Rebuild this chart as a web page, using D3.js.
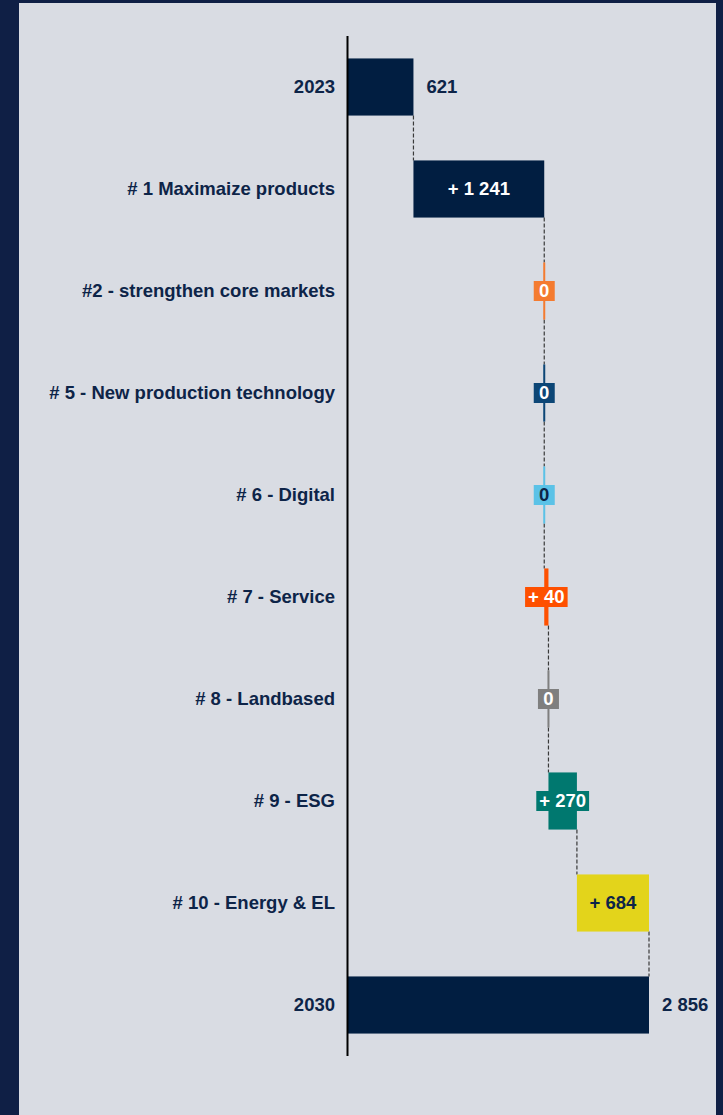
<!DOCTYPE html>
<html>
<head>
<meta charset="utf-8">
<script src="https://cdn.jsdelivr.net/npm/d3@7"></script>
<style>
  body { margin: 0; background: #0f1f45; }
  #frame { position: absolute; left: 19px; top: 3px; width: 697px; height: 1112px; background: #d9dce3; }
  svg { position: absolute; left: 0; top: 0; }
  text { font-family: "Liberation Sans", Arial, sans-serif; font-weight: bold; }
</style>
</head>
<body>
<div id="frame"></div>
<svg id="chart" width="723" height="1115"></svg>
<script>
// waterfall steps, 2023 -> 2030
const categories = ['2023', '# 1 Maximaize products', '#2 - strengthen core markets',
  '# 5 - New production technology', '# 6 - Digital', '# 7 - Service', '# 8 - Landbased',
  '# 9 - ESG', '# 10 - Energy & EL', '2030'];
const values = [621, 1241, 0, 0, 0, 40, 0, 270, 684, 2856];
const isTotal = [true, false, false, false, false, false, false, false, false, true];
const colors = ['#011e41', '#011e41', '#f47b30', '#0c4676', '#5bc2e7', '#fe5000',
  '#7f7f7f', '#00786f', '#e3d41b', '#011e41'];
const darkText = [false, false, false, false, true, false, false, false, true, false];

const navy = '#0d2448';
const fs = 18.5;
const loc = d3.formatLocale({ decimal: '.', thousands: '\u00a0', grouping: [3], currency: ['', ''] });
const fmt = loc.format(',d');

// build start/end of each bar
let run = 0;
const rows = categories.map((c, i) => {
  let x0, x1;
  if (isTotal[i]) { x0 = 0; x1 = values[i]; run = values[i]; }
  else { x0 = run; x1 = run + values[i]; run = x1; }
  return { cat: c, v: values[i], x0, x1, total: isTotal[i], color: colors[i], dark: darkText[i] };
});

const svg = d3.select('#chart');
const x = d3.scaleLinear().domain([0, 2856]).range([348, 649]);
const y = d3.scaleBand().domain(categories).range([36, 1056]).paddingInner(0.44).paddingOuter(0.22);

// connectors
svg.append('g').selectAll('line')
  .data(rows.slice(0, -1))
  .join('line')
  .attr('x1', d => x(d.x1)).attr('x2', d => x(d.x1))
  .attr('y1', d => y(d.cat) + y.bandwidth())
  .attr('y2', (d, i) => y(rows[i + 1].cat))
  .attr('stroke', '#3a3a3a').attr('stroke-width', 1.2).attr('stroke-dasharray', '4,2');

// bars
svg.append('g').selectAll('rect')
  .data(rows)
  .join('rect')
  .attr('x', d => d.v === 0 ? x(d.x0) - 1 : x(d.x0))
  .attr('width', d => Math.max(2, x(d.x1) - x(d.x0)))
  .attr('y', d => y(d.cat))
  .attr('height', y.bandwidth())
  .attr('fill', d => d.color);

// axis line
svg.append('line')
  .attr('x1', 347.5).attr('x2', 347.5).attr('y1', 36).attr('y2', 1056)
  .attr('stroke', '#000').attr('stroke-width', 2);

// category labels
svg.append('g').selectAll('text')
  .data(rows)
  .join('text')
  .attr('x', 335)
  .attr('y', d => y(d.cat) + y.bandwidth() / 2)
  .attr('dy', '0.35em')
  .attr('text-anchor', 'end')
  .attr('font-size', fs)
  .attr('fill', navy)
  .text(d => d.cat);

// value labels
const lab = svg.append('g');
rows.forEach(d => {
  const cy = y(d.cat) + y.bandwidth() / 2;
  if (d.total) {
    lab.append('text')
      .attr('x', x(d.x1) + 13).attr('y', cy).attr('dy', '0.35em')
      .attr('font-size', fs).attr('fill', navy)
      .text(fmt(d.v));
    return;
  }
  const txt = d.v === 0 ? '0' : '+ ' + fmt(d.v);
  const cx = (x(d.x0) + x(d.x1)) / 2;
  const g = lab.append('g');
  const t = g.append('text')
    .attr('x', cx).attr('y', cy).attr('dy', '0.35em')
    .attr('text-anchor', 'middle').attr('font-size', fs)
    .attr('fill', d.dark ? navy : '#fff')
    .text(txt);
  const w = t.node().getComputedTextLength();
  const bw = x(d.x1) - x(d.x0);
  if (bw < w + 6) {
    const boxW = Math.max(21, w + 6);
    g.insert('rect', 'text')
      .attr('x', cx - boxW / 2).attr('y', cy - 10)
      .attr('width', boxW).attr('height', 20)
      .attr('fill', d.color);
  }
});
</script>
</body>
</html>
